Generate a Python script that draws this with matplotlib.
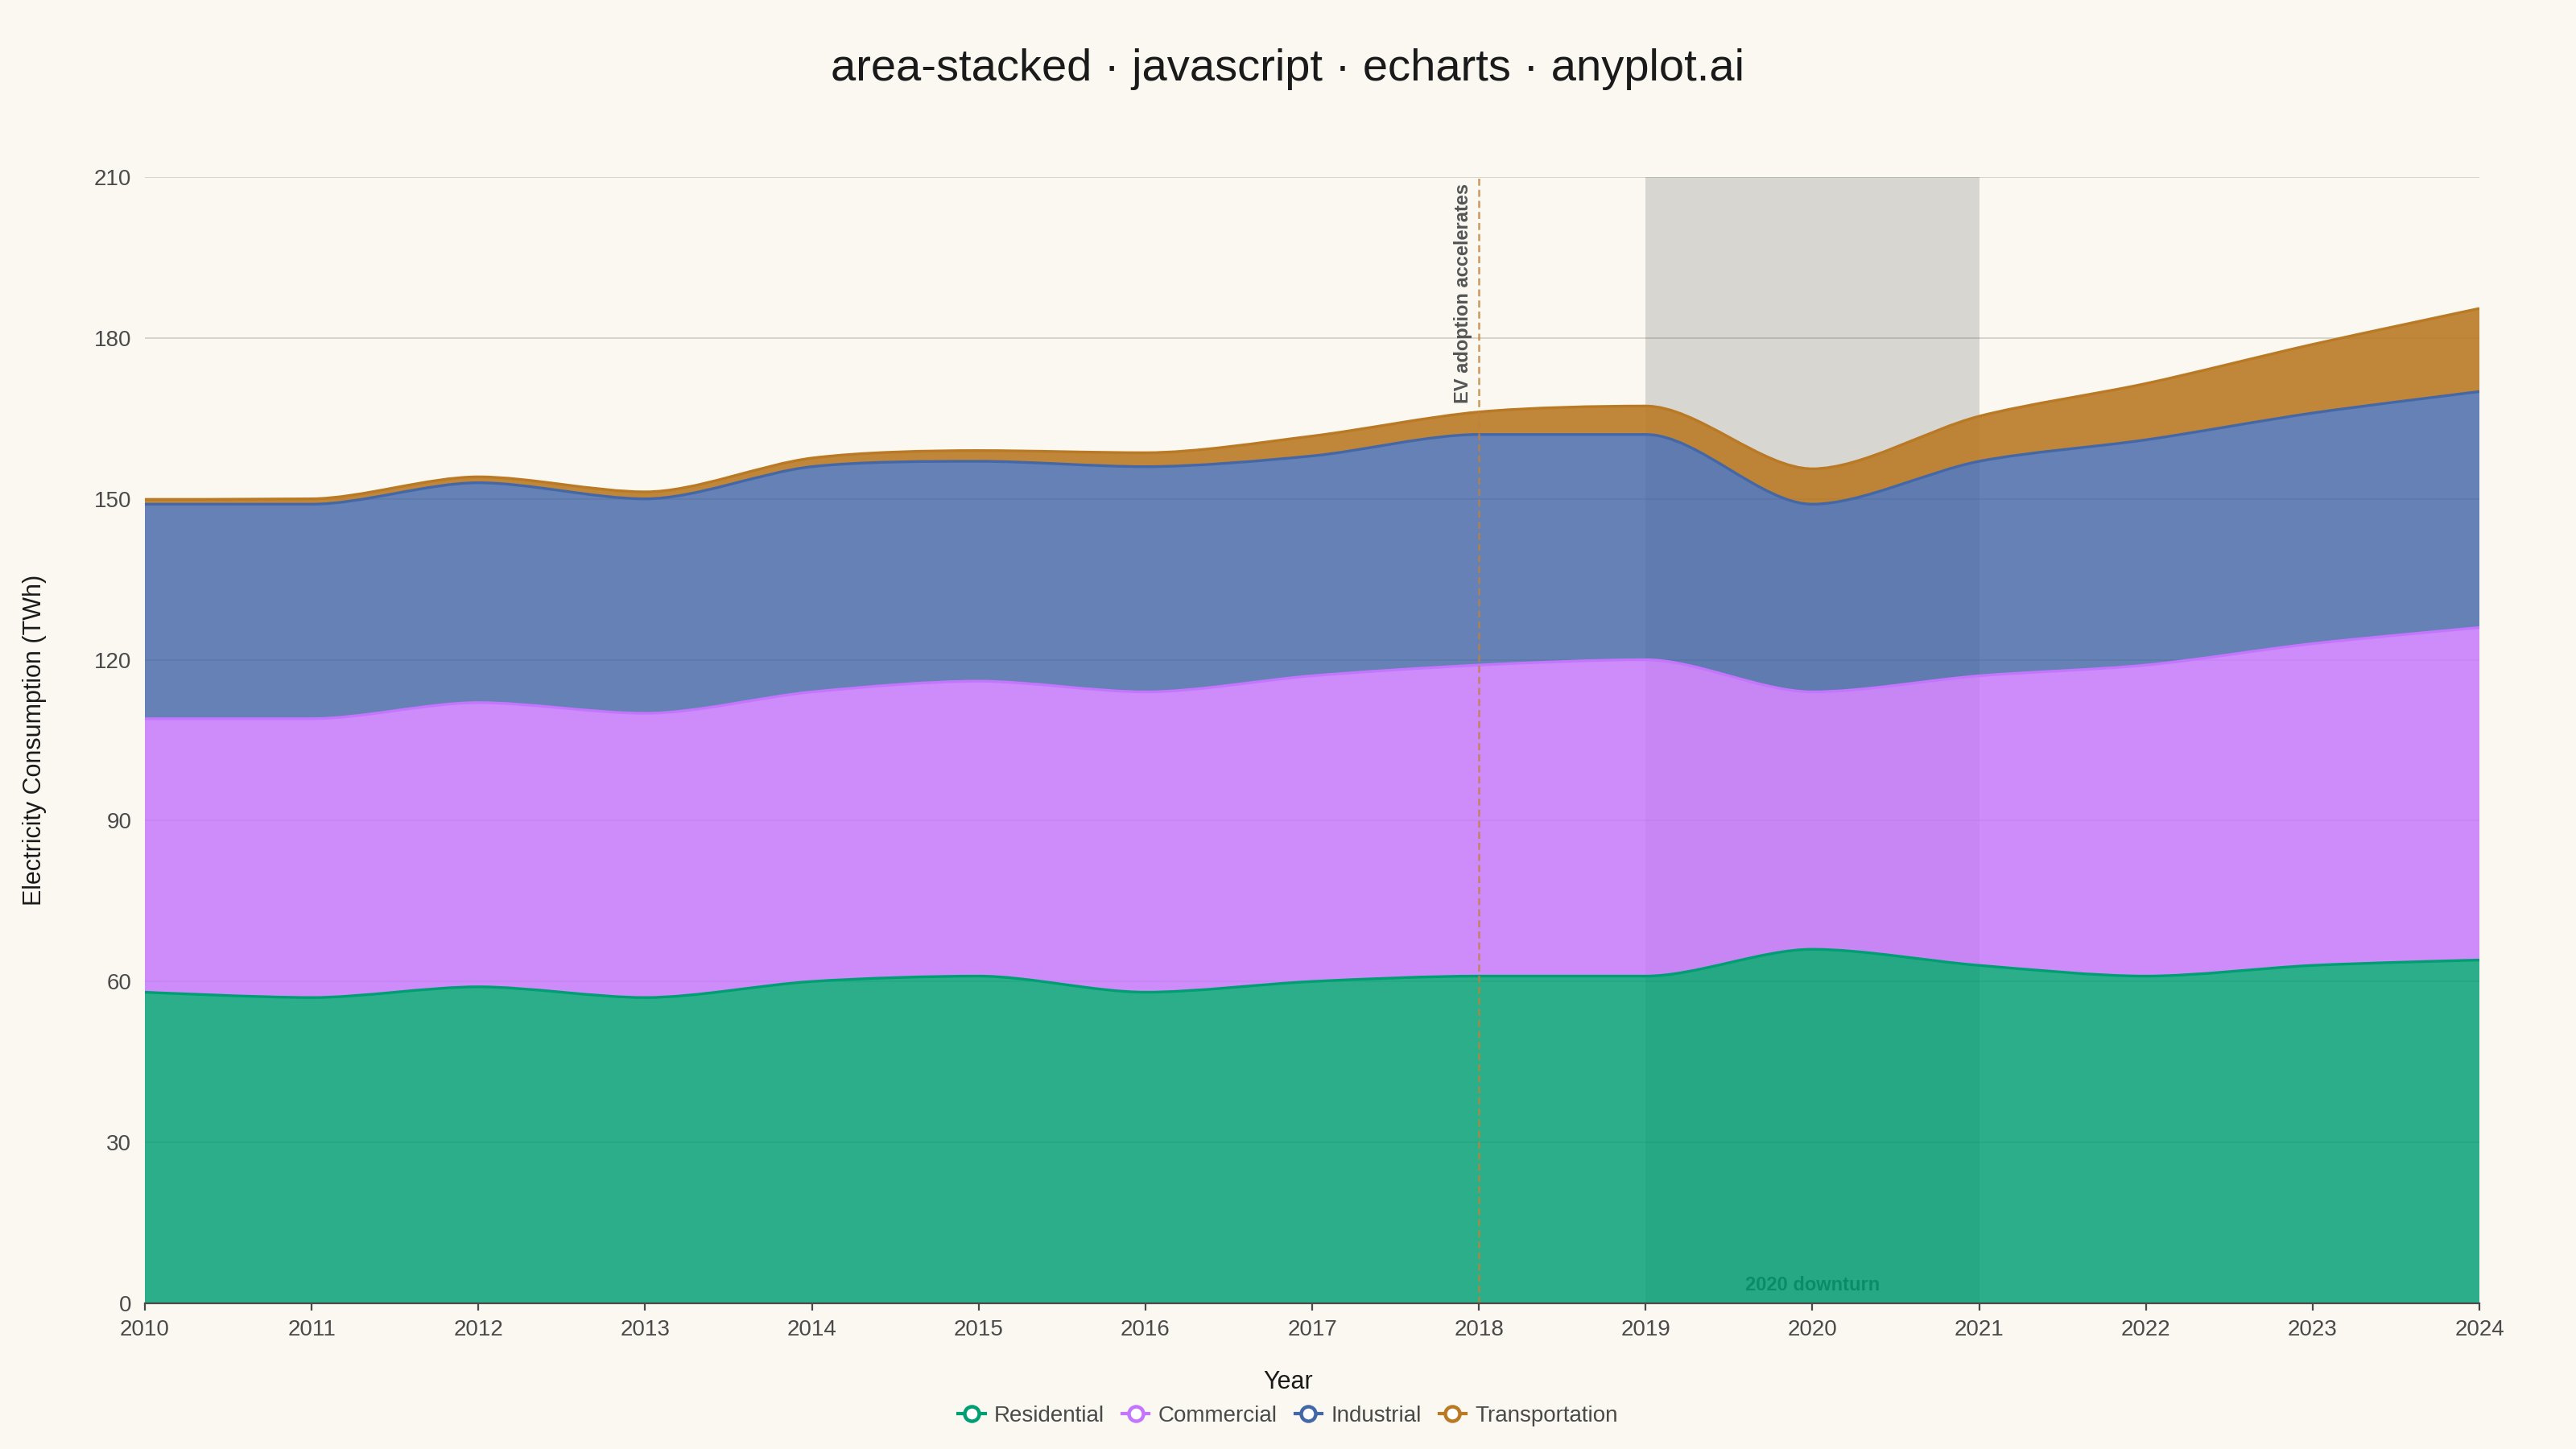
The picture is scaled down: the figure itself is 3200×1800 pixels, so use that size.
import numpy as np
import matplotlib
matplotlib.use("Agg")
from matplotlib import pyplot as plt
from matplotlib.path import Path
from matplotlib.patches import PathPatch
from matplotlib.lines import Line2D

plt.rcParams['font.family'] = ['Liberation Sans', 'DejaVu Sans']

# data (TWh)
years = [2010, 2011, 2012, 2013, 2014, 2015, 2016, 2017, 2018, 2019, 2020, 2021, 2022, 2023, 2024]
residential = [58, 57, 59, 57, 60, 61, 58, 60, 61, 61, 66, 63, 61, 63, 64]
commercial = [51, 52, 53, 53, 54, 55, 56, 57, 58, 59, 48, 54, 58, 60, 62]
industrial = [40, 40, 41, 40, 42, 41, 42, 41, 43, 42, 35, 40, 42, 43, 44]
transportation = [0.9, 1.0, 1.1, 1.3, 1.6, 2.0, 2.6, 3.7, 4.2, 5.3, 6.6, 8.4, 10.5, 12.8, 15.5]

series_names = ['Residential', 'Commercial', 'Industrial', 'Transportation']
series_colors = ['#009E73', '#C475FD', '#4467A8', '#BA7A25']
fill_alpha = [0.82, 0.82, 0.82, 0.9]
y_ticks = [0, 30, 60, 90, 120, 150, 180, 210]

BG = '#FAF8F1'
INK = '#1A1A1A'
SOFT = '#4A4A4A'


def smooth_path(xs, ys, sx, sy, smooth=0.3):
    # echarts style bezier smoothing, computed in pixel-like space
    pts = [(x * sx, y * sy) for x, y in zip(xs, ys)]
    verts = [pts[0]]
    codes = [Path.MOVETO]
    cp0 = pts[0]
    n = len(pts)
    for i in range(1, n):
        px, py = pts[i - 1]
        x, y = pts[i]
        if i == n - 1:
            cp1 = (x, y)
            ncp0 = None
        else:
            nx, ny = pts[i + 1]
            vx, vy = nx - px, ny - py
            lp = np.hypot(x - px, y - py)
            ln = np.hypot(nx - x, ny - y)
            r = ln / (ln + lp)
            ncx = x + vx * smooth * r
            ncy = y + vy * smooth * r
            ncx = min(max(ncx, min(nx, x)), max(nx, x))
            ncy = min(max(ncy, min(ny, y)), max(ny, y))
            vx, vy = ncx - x, ncy - y
            c1x = x - vx * lp / ln
            c1y = y - vy * lp / ln
            c1x = min(max(c1x, min(px, x)), max(px, x))
            c1y = min(max(c1y, min(py, y)), max(py, y))
            vx, vy = x - c1x, y - c1y
            ncp0 = (x + vx * ln / lp, y + vy * ln / lp)
            cp1 = (c1x, c1y)
        verts += [cp0, cp1, (x, y)]
        codes += [Path.CURVE4] * 3
        cp0 = ncp0
    verts = [(vx_ / sx, vy_ / sy) for vx_, vy_ in verts]
    return verts, codes


fig = plt.figure(figsize=(16, 9), dpi=200, facecolor=BG)
ax = fig.add_axes([0.05625, 0.1006, 0.90625, 0.7772])
ax.set_facecolor(BG)

# pixel scale factors (px per year / px per TWh) for the smoothing
sx = 2900 / 14
sy = 1399 / 210

# 2020 downturn band
ax.axvspan(2019, 2021, color='black', alpha=0.135, lw=0, zorder=0.8)
ax.annotate('2020 downturn', xy=(2020, 0), xytext=(0, 4), textcoords='offset points',
            ha='center', va='bottom', fontsize=8.5, fontweight='bold', color='#3C3C3C', zorder=1.5)

bottom_verts = [(years[-1], 0), (years[0], 0)]
bottom_codes = [Path.LINETO, Path.LINETO]
cum = np.zeros(len(years))
layers = [residential, commercial, industrial, transportation]
for name, vals, col, fa in zip(series_names, layers, series_colors, fill_alpha):
    cum = cum + np.array(vals, dtype=float)
    top_verts, top_codes = smooth_path(years, cum, sx, sy)
    verts = top_verts + bottom_verts + [top_verts[0]]
    codes = top_codes + bottom_codes + [Path.CLOSEPOLY]
    ax.add_patch(PathPatch(Path(verts, codes), facecolor=col, edgecolor='none', alpha=fa, zorder=2))
    ax.add_patch(PathPatch(Path(top_verts, top_codes), facecolor='none', edgecolor=col, lw=1.2, zorder=3))
    # next layer sits on this one: reversed top path
    bottom_verts = top_verts[::-1]
    bottom_codes = [Path.LINETO] + [Path.CURVE4] * (len(top_verts) - 1)

# EV marker line
ax.axvline(2018, color='#C0823A', alpha=0.8, lw=0.9, ls=(0, (3.5, 2)), zorder=4)
ax.annotate('EV adoption accelerates', xy=(2018, 210), xytext=(-3, -3), textcoords='offset points',
            rotation=90, ha='right', va='top', fontsize=8.5, fontweight='bold', color='#555555', zorder=4)

ax.set_xlim(years[0], years[-1])
ax.set_ylim(0, 210)
ax.set_xticks(years)
ax.set_xticklabels([str(y) for y in years])
ax.set_yticks(y_ticks)
ax.set_yticklabels([str(t) for t in y_ticks])

ax.set_axisbelow(True)
ax.grid(axis='y', color='#D6D5CD', lw=0.7)
ax.grid(axis='x', visible=False)
for s in ['top', 'right', 'left']:
    ax.spines[s].set_visible(False)
ax.spines['bottom'].set_color(SOFT)
ax.spines['bottom'].set_linewidth(0.8)
ax.spines['bottom'].set_zorder(5)
ax.tick_params(axis='x', colors=SOFT, labelsize=10, length=3.2, width=0.8, pad=4)
ax.tick_params(axis='y', colors=SOFT, labelsize=10, length=0, pad=6)

fig.text(0.5, 0.952, 'area-stacked · javascript · echarts · anyplot.ai', ha='center', va='center',
         fontsize=20.2, color=INK)
fig.text(0.5, 0.046, 'Year', ha='center', va='center', fontsize=11, color=INK)
fig.text(0.0134, 0.4894, 'Electricity Consumption (TWh)', ha='center', va='center', rotation=90,
         fontsize=11, color=INK)

handles = [Line2D([], [], color=c, lw=1.5, marker='o', markersize=6.5, markerfacecolor='white',
                  markeredgewidth=1.6) for c in series_colors]
leg = fig.legend(handles, series_names, loc='center', bbox_to_anchor=(0.5, 0.023), ncol=4,
                 frameon=False, fontsize=10, handlelength=1.2, handletextpad=0.4, columnspacing=0.8)
for t in leg.get_texts():
    t.set_color(SOFT)

fig.savefig('out.png', dpi=200, facecolor=BG)
